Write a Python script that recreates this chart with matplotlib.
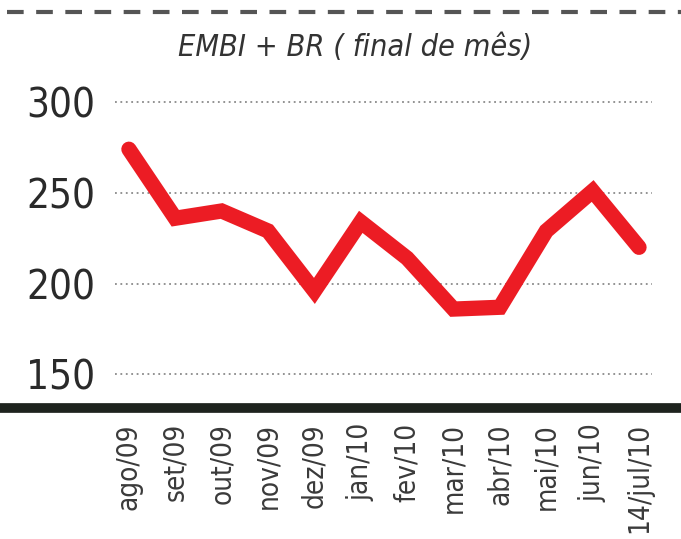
import matplotlib.pyplot as plt
from matplotlib.lines import Line2D

# data
meses = ['ago/09', 'set/09', 'out/09', 'nov/09', 'dez/09', 'jan/10',
         'fev/10', 'mar/10', 'abr/10', 'mai/10', 'jun/10', '14/jul/10']
embi = [274, 236, 240, 229, 196, 234, 214, 186, 187, 229, 251, 220]
yticks = [150, 200, 250, 300]

plt.rcParams['font.family'] = ['DejaVu Sans']
plt.rcParams['font.stretch'] = 'condensed'

fig = plt.figure(figsize=(6.81, 5.39), dpi=100)
ax = fig.add_axes([115 / 681, 1 - 405 / 539, (652 - 115) / 681, (405 - 80) / 539])

ax.set_xlim(-0.30, 11.28)
ax.set_ylim(133.2, 312.1)

# dotted gridlines
for v in yticks:
    ax.axhline(v, color='#8a8a8a', lw=1.3, ls=(0, (1, 2)), zorder=1)

ax.plot(range(len(meses)), embi, color='#ec1c24', lw=11,
        solid_joinstyle='miter', solid_capstyle='round', zorder=3)

for s in ax.spines.values():
    s.set_visible(False)

ax.set_yticks(yticks)
ax.set_yticklabels([str(v) for v in yticks], fontsize=29, color='#2a2a2a')
ax.tick_params(axis='y', length=0, pad=14)

ax.set_xticks(range(len(meses)))
ax.set_xticklabels(meses, rotation=90, fontsize=20, color='#3a3a3a')
ax.tick_params(axis='x', length=0, pad=13)

# thick baseline and dashed top rule
fig.add_artist(Line2D([0, 1], [1 - 408 / 539] * 2, color='#1e231e', lw=7,
                      transform=fig.transFigure))
fig.add_artist(Line2D([0.01, 1], [1 - 12 / 539] * 2, color='#555555', lw=3,
                      ls=(0, (4, 3)), transform=fig.transFigure))

fig.text(355 / 681, 1 - 48 / 539, 'EMBI + BR ( final de mês)', ha='center', va='center',
         fontsize=22, style='italic', color='#333333')

fig.savefig('out.png', dpi=100)
